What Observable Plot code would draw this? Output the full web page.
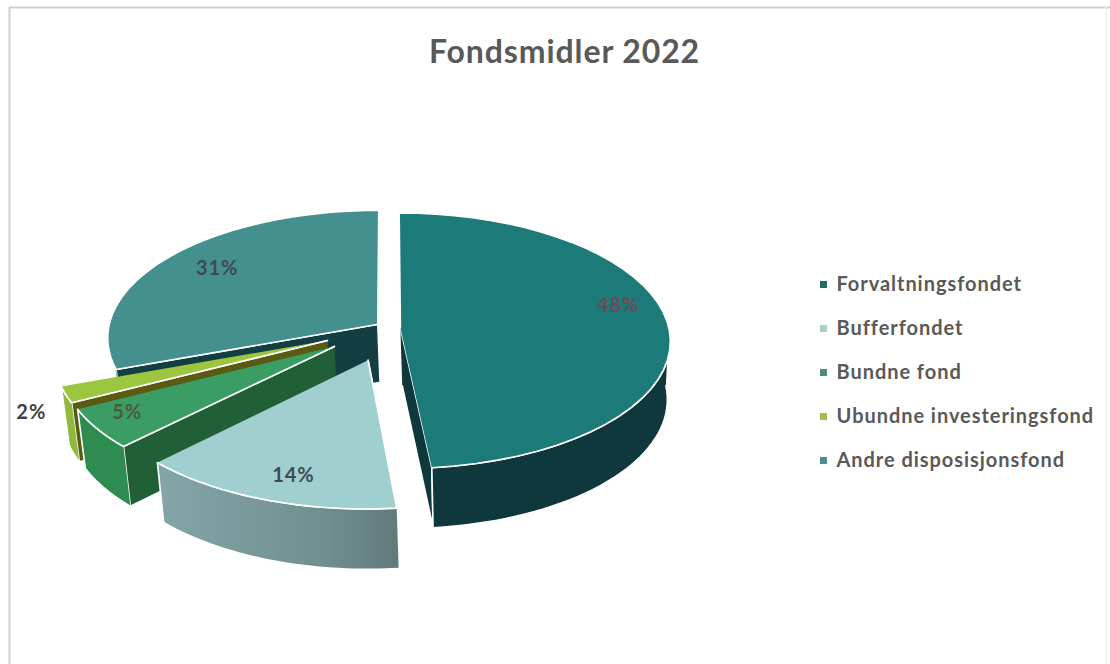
<!DOCTYPE html>
<html><head><meta charset="utf-8">
<script src="https://cdn.jsdelivr.net/npm/d3@7"></script>
<script src="https://cdn.jsdelivr.net/npm/@observablehq/plot@0.6"></script>
<style>html,body{margin:0;padding:0;background:#fff}
.spaced text{letter-spacing:.95px}
.spacedTitle text{letter-spacing:.9px}
</style>
</head><body><div id="chart"></div>
<script>
const categories = ["Forvaltningsfondet","Bufferfondet","Bundne fond","Ubundne investeringsfond","Andre disposisjonsfond"];
const shares = [48.4,14,5,2,30.6];
const labels = ["48%","14%","5%","2%","31%"];
const chartTitle = "Fondsmidler 2022";

// layout and style, separate from the data
const W = 1110, H = 664;
const cx = 387, cy = 327.5, rx = 268.5, ry = 126.5, persp = 0.102;
const explode = [0.048,0.258,0.242,0.242,0.048];
const explodeTurn = [0,-3.6,0,0,0];
const depth = 58, depthPersp = 2, baseScale = 0.982, baseVanish = 504;
const topFill = ["#1c7a79","#9fcfce","#3a9e64","#9cc63f","#44908f"];
const wallFill = ["#0e383b","url(#bufferWall)","#2f8c50","#8fb93a","#2c7c78"];
const radialFill = ["#0e383b","#6f8f91","#215f36","#5a5b12","#143f42"];
const legendFill = ["#1f6f60","#a9d2cc","#4f8a80","#a8b84a","#4a9088"];
const labelPolar = [[78,0.845],[197,0.83],[236,0.86],[242.5,1.15],[306.5,0.78]];
const labelColor = ["#6b4a5e","#3d4c53","#4c5a3c","#404040","#3e4a52"];

const toRad = d => d * Math.PI / 180;
const total = d3.sum(shares);
const cum = d3.cumsum(shares);
const slices = shares.map((v,i)=>{
  const a0 = (i ? cum[i-1] : 0) / total * 360, a1 = cum[i] / total * 360;
  return {i, a0, a1, mid:(a0+a1)/2 + explodeTurn[i]};
});
function project(s, r, deg, low){
  const X = r*Math.sin(toRad(deg)) + explode[s.i]*Math.sin(toRad(s.mid));
  const Z = r*Math.cos(toRad(deg)) + explode[s.i]*Math.cos(toRad(s.mid));
  const f = 1/(1+persp*Z);
  let x = cx + rx*X*f, y = cy - ry*Z*f;
  if (low){ x = baseVanish + (x-baseVanish)*baseScale; y += depth - depthPersp*Z; }
  return [x,y];
}
const arc = (s,a,b,low)=>d3.range(0,41).map(t=>project(s,1,a+(b-a)*t/40,low));

const polys = [];
function addPoly(pts, fill){ const id = polys.length ? polys[polys.length-1].id+1 : 0; pts.forEach(p=>polys.push({id,x:p[0],y:p[1],fill})); }
// back-to-front order
for (const i of [4,0,3,2,1]){
  const s = slices[i];
  const wall = a => [project(s,0,a,false),project(s,1,a,false),project(s,1,a,true),project(s,0,a,true)];
  if (i===4){ addPoly(wall(s.a0),radialFill[i]); }
  if (i===0){ addPoly(wall(s.a1),radialFill[i]); }
  if (i>=1 && i<=3){ addPoly(wall(s.a0),radialFill[i]); }
  const a0 = Math.max(s.a0,90), a1 = Math.min(s.a1,270);
  if (a1>a0) addPoly([...arc(s,a0,a1,false),...arc(s,a1,a0,true)],wallFill[i]);
  addPoly([project(s,0,s.a0,false),...arc(s,s.a0,s.a1,false)],topFill[i]);
}
const legend = categories.map((name,i)=>({name,fill:legendFill[i],i}));
const pct = slices.map(s=>{
  const [a,r] = labelPolar[s.i];
  const [x,y] = project(s,r,a,false);
  return {x,y,text:labels[s.i],fill:labelColor[s.i]};
});
const font = "Lato, 'Open Sans', sans-serif";
const plot = Plot.plot({
  width:W, height:H, margin:0, axis:null,
  x:{domain:[0,W],range:[0,W]}, y:{domain:[0,H],range:[0,H]},
  marks:[
    () => { const svg = d3.create("svg:g");
      const g = svg.append("defs").append("linearGradient").attr("id","bufferWall");
      g.append("stop").attr("offset","0%").attr("stop-color","#84a6a8");
      g.append("stop").attr("offset","70%").attr("stop-color","#6f8e90");
      g.append("stop").attr("offset","100%").attr("stop-color","#617a7c");
      return svg.node(); },
    Plot.ruleX([9],{y1:()=>7,y2:()=>H,stroke:"#cfcfcf",strokeWidth:2}),
    Plot.ruleY([7],{x1:()=>9,x2:()=>W,stroke:"#cfcfcf",strokeWidth:2}),
    Plot.ruleX([1106],{y1:()=>7,y2:()=>H,stroke:"#f1f1f1",strokeWidth:2}),
    Plot.line(polys,{x:"x",y:"y",z:"id",fill:d=>d.fill,stroke:"white",strokeWidth:1.6,strokeLinejoin:"round",curve:"linear"}),
    Plot.text(pct,{x:"x",y:"y",text:"text",fill:d=>d.fill,fontFamily:font,fontWeight:700,fontSize:20,className:"spaced"}),
    Plot.text([chartTitle],{x:()=>564,y:()=>52,text:d=>d,fill:"#595959",fontFamily:font,fontWeight:700,fontSize:32,className:"spacedTitle"}),
    Plot.rect(legend,{x1:()=>820,x2:()=>827,y1:d=>281+d.i*44,y2:d=>288+d.i*44,fill:"fill"}),
    Plot.text(legend,{x:()=>836,y:d=>284.5+d.i*44,text:"name",textAnchor:"start",fill:"#595959",fontFamily:font,fontWeight:700,fontSize:20,className:"spaced"})
  ]
});
document.getElementById("chart").append(plot);
</script></body></html>
